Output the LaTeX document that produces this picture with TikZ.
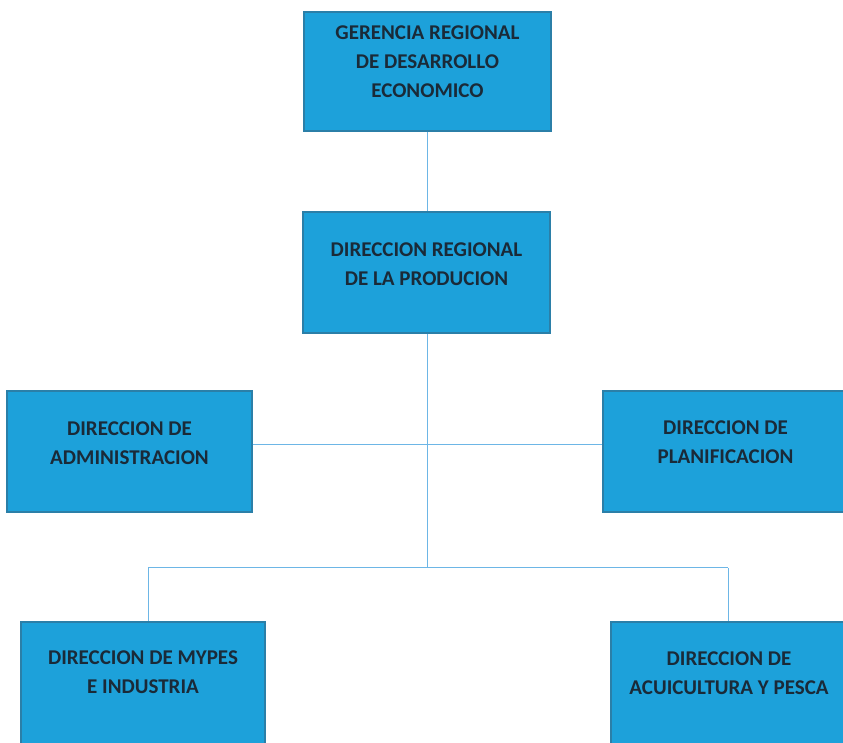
\documentclass[tikz,border=0pt]{standalone}
\usepackage{fontspec}
\setmainfont{Carlito}
\definecolor{boxfill}{HTML}{1DA1DA}
\definecolor{boxdraw}{HTML}{2B7FA8}
\definecolor{linecol}{HTML}{6DB6E6}
\definecolor{txt}{HTML}{1A2A38}
\begin{document}
\begin{tikzpicture}[x=1pt,y=1pt,
  orgbox/.style={draw=boxdraw, line width=1.2pt, fill=boxfill, inner sep=0pt},
  orgtext/.style={text=txt, font=\fontsize{21}{29}\selectfont\bfseries, align=center, inner sep=0pt},
  conn/.style={draw=linecol, line width=1pt}]
\useasboundingbox (0,0) rectangle (843,743);
\node[orgbox, minimum width=247pt, minimum height=119pt] (g) at (427.5,671.5) {};
\node[orgtext] (gt) at (427.5,681.5) {GERENCIA REGIONAL\\DE DESARROLLO\\ECONOMICO};
\node[orgbox, minimum width=247pt, minimum height=121pt] (d) at (426.5,470.5) {};
\node[orgtext] (dt) at (426.5,478.5) {DIRECCION REGIONAL\\DE LA PRODUCION};
\node[orgbox, minimum width=245pt, minimum height=121pt] (a) at (129.5,291.5) {};
\node[orgtext] (at) at (129.5,299.5) {DIRECCION DE\\ADMINISTRACION};
\node[orgbox, minimum width=245pt, minimum height=121pt] (p) at (725.5,291.5) {};
\node[orgtext] (pt) at (725.5,300.5) {DIRECCION DE\\PLANIFICACION};
\node[orgbox, minimum width=244pt, minimum height=125pt] (m) at (143,58.5) {};
\node[orgtext] (mt) at (143,71) {DIRECCION DE MYPES\\E INDUSTRIA};
\node[orgbox, minimum width=236pt, minimum height=125pt] (c) at (729,58.5) {};
\node[orgtext] (ct) at (729,69.5) {DIRECCION DE\\ACUICULTURA Y PESCA};
\coordinate (j1) at (427,298);
\coordinate (j2) at (427,175);
\coordinate (l2) at (148,175);
\coordinate (r2) at (728,175);
\draw[conn] (g.south -| j2) -- (d.north -| j2);
\draw[conn] (d.south -| j2) -- (j2);
\draw[conn] (a.east |- j1) -- (p.west |- j1);
\draw[conn] (l2) -- (r2);
\draw[conn] (l2) -- (l2 |- m.north);
\draw[conn] (r2) -- (r2 |- c.north);
\end{tikzpicture}
\end{document}
